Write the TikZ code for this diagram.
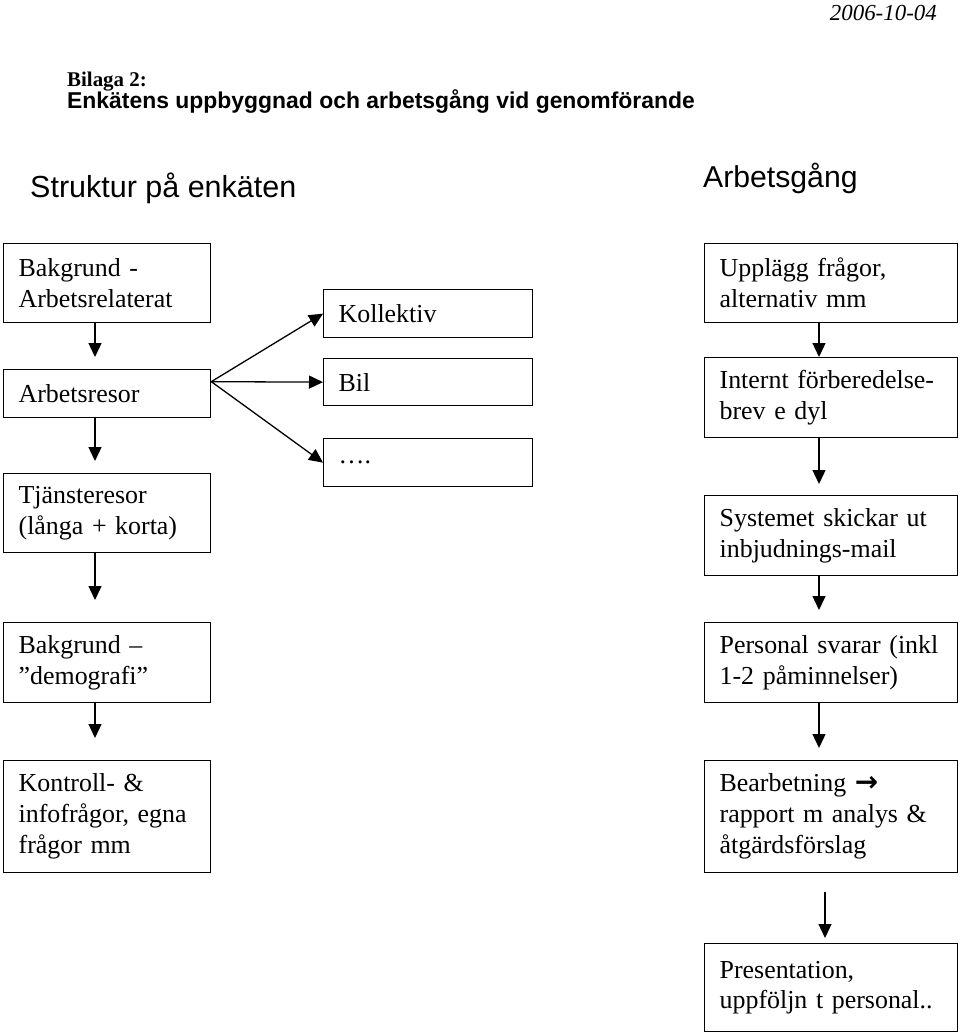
\documentclass[tikz,border=0pt]{standalone}
\usepackage{fontspec}
\setmainfont{Liberation Serif}
\newfontfamily\arialfont{Liberation Sans}
\newfontfamily\symfont{DejaVu Sans}
\usetikzlibrary{arrows.meta}
\begin{document}
\begin{tikzpicture}[x=1bp,y=-1bp,
  box/.style={draw, line width=1.3bp, anchor=north west, inner xsep=15bp, inner ysep=0pt,
    align=left, font=\fontsize{26}{31}\selectfont},
  lbox/.style={box, text width=177bp},
  mbox/.style={box, text width=179bp},
  rbox/.style={box, text width=223bp},
  arr/.style={line width=1.3bp, -{Triangle[length=14bp,width=13bp]}},
  ttl/.style={inner sep=0pt, anchor=base west}]
\useasboundingbox (0,0) rectangle (960,1034);

% headings
\node[inner sep=0pt, anchor=base east, font=\itshape\fontsize{23}{26}\selectfont] (date) at (937,20) {2006-10-04};
\node[ttl, font=\bfseries\fontsize{21}{24}\selectfont] (bilaga) at (67,86) {Bilaga 2:};
\node[ttl, font=\arialfont\bfseries\fontsize{23}{26}\selectfont] (enk) at (67,108.5) {Enkätens uppbyggnad och arbetsgång vid genomförande};
\node[ttl, font=\arialfont\fontsize{30.6}{34}\selectfont] (struk) at (30,197) {Struktur på enkäten};
\node[ttl, font=\arialfont\fontsize{30.3}{34}\selectfont] (arbg) at (703,187) {Arbetsgång};

% left column
\node[lbox, minimum height=79bp] (b1) at (3,243) {Bakgrund -\\Arbetsrelaterat};
\node[lbox, minimum height=48bp] (b2) at (3,369) {Arbetsresor};
\node[lbox, minimum height=79bp] (b3) at (3,473) {Tjänsteresor\\(långa + korta)};
\node[lbox, minimum height=80bp] (b4) at (3,622) {Bakgrund –\\”demografi”};
\node[lbox, minimum height=112bp] (b5) at (3,760) {Kontroll- \&\\infofrågor, egna\\frågor mm};

% middle column
\node[mbox, minimum height=48bp] (m1) at (323,289) {Kollektiv};
\node[mbox, minimum height=47bp] (m2) at (323,358) {Bil};
\node[mbox, minimum height=48bp] (m3) at (323,438) {….};

% right column
\node[rbox, minimum height=79bp] (r1) at (704,243) {Upplägg frågor,\\alternativ mm};
\node[rbox, minimum height=80bp] (r2) at (704,357) {Internt förberedelse-\\brev e dyl};
\node[rbox, minimum height=80bp] (r3) at (704,495) {Systemet skickar ut\\inbjudnings-mail};
\node[rbox, minimum height=80bp] (r4) at (704,622) {Personal svarar (inkl\\1-2 påminnelser)};
\node[rbox, minimum height=112bp] (r5) at (704,760) {Bearbetning {\symfont\bfseries\fontsize{28}{31}\selectfont →}\\rapport m analys \&\\åtgärdsförslag};
\node[rbox, minimum height=88bp] (r6) at (704,943) {Presentation,\\uppföljn t personal..};

% left arrows (free ends)
\coordinate (la1) at (95,357);
\coordinate (la2) at (95,461);
\coordinate (la3) at (95,600);
\coordinate (la4) at (95,738);
\draw[arr] (b1.south -| la1) -- (la1);
\draw[arr] (b2.south -| la2) -- (la2);
\draw[arr] (b3.south -| la3) -- (la3);
\draw[arr] (b4.south -| la4) -- (la4);

% branching arrows
\coordinate (s) at ([yshift=12bp]b2.east);
\draw[arr] (s) -- (m1.west);
\draw[arr] (s) -- (m2.west);
\draw[arr] (s) -- (m3.west);

% right arrows
\coordinate (rx) at (819,0);
\coordinate (ra2) at (819,484);
\coordinate (ra3) at (819,610);
\coordinate (ra4) at (819,748);
\coordinate (ra5s) at (825,892);
\coordinate (ra5e) at (825,938);
\draw[arr] (r1.south -| rx) -- (r2.north -| rx);
\draw[arr] (r2.south -| rx) -- (ra2);
\draw[arr] (r3.south -| rx) -- (ra3);
\draw[arr] (r4.south -| rx) -- (ra4);
\draw[arr] (ra5s) -- (ra5e);
\end{tikzpicture}
\end{document}
